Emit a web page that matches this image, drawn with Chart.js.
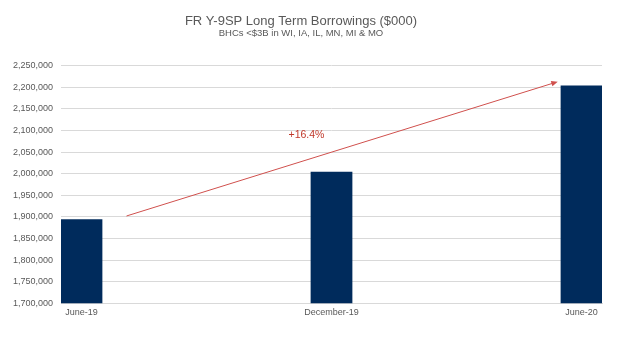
<!DOCTYPE html>
<html>
<head>
<meta charset="utf-8">
<title>FR Y-9SP Long Term Borrowings</title>
<script src="https://cdn.jsdelivr.net/npm/chart.js@4"></script>
<style>
  html, body { margin: 0; padding: 0; background: #fff; }
  #wrap { width: 640px; height: 343px; position: relative; }
</style>
</head>
<body>
<div id="wrap"><canvas id="borrowChart"></canvas></div>
<script>
// quarters shown on the x axis
const categories = ['June-19', 'December-19', 'June-20'];
// long term borrowings, $000
const borrowings = [1894600, 2004400, 2204400];
// y axis range
const yMin = 1700000;
const yMax = 2250000;
const yStep = 50000;
// growth annotation (data units: x = category index, y = value)
const growthText = '+16.4%';
const arrowFrom = [0.18, 1902000];
const arrowTo = [1.905, 2213000];
const growthTextAt = [0.9, 2089000];

const textGray = '#595959';
const gridGray = '#d9d9d9';
const arrowRed = '#d0504d';

const growthArrow = {
    id: 'growthArrow',
    afterDatasetsDraw(chart) {
        const c = chart.ctx;
        const xs = chart.scales.x, ys = chart.scales.y;
        const x1 = xs.getPixelForValue(arrowFrom[0]), y1 = ys.getPixelForValue(arrowFrom[1]);
        const x2 = xs.getPixelForValue(arrowTo[0]), y2 = ys.getPixelForValue(arrowTo[1]);
        const ang = Math.atan2(y2 - y1, x2 - x1);
        const head = 7;

        c.save();
        c.strokeStyle = arrowRed;
        c.fillStyle = arrowRed;
        c.lineWidth = 1;
        c.beginPath();
        c.moveTo(x1, y1);
        c.lineTo(x2 - Math.cos(ang) * head * 0.8, y2 - Math.sin(ang) * head * 0.8);
        c.stroke();

        c.beginPath();
        c.moveTo(x2, y2);
        c.lineTo(x2 - head * Math.cos(ang - 0.4), y2 - head * Math.sin(ang - 0.4));
        c.lineTo(x2 - head * Math.cos(ang + 0.4), y2 - head * Math.sin(ang + 0.4));
        c.closePath();
        c.fill();

        c.font = '10.5px "Liberation Sans", Arial, sans-serif';
        c.fillStyle = '#c0392b';
        c.textAlign = 'center';
        c.textBaseline = 'middle';
        c.fillText(growthText, xs.getPixelForValue(growthTextAt[0]), ys.getPixelForValue(growthTextAt[1]));
        c.restore();
    }
};

const ctx = document.getElementById('borrowChart').getContext('2d');
Chart.defaults.font.family = '"Liberation Sans", Arial, sans-serif';
Chart.defaults.color = textGray;

new Chart(ctx, {
    type: 'bar',
    data: {
        datasets: [{
            label: 'Long Term Borrowings',
            data: borrowings.map((v, i) => ({ x: i, y: v })),
            backgroundColor: '#002b5c',
            borderWidth: 0,
            barPercentage: 1,
            categoryPercentage: 0.167
        }]
    },
    options: {
        responsive: true,
        maintainAspectRatio: false,
        animation: false,
        layout: { padding: { left: 0, right: 38, top: 0, bottom: 21 } },
        scales: {
            x: {
                type: 'linear',
                offset: false,
                min: -0.082,
                max: 2.082,
                grid: { display: false, offset: false, drawTicks: false },
                border: { color: gridGray },
                ticks: {
                    stepSize: 1,
                    includeBounds: false,
                    maxRotation: 0,
                    padding: 4,
                    font: { size: 9 },
                    callback: v => categories[v] ?? ''
                }
            },
            y: {
                min: yMin,
                max: yMax,
                afterFit: scale => { scale.width = 61; },
                border: { display: false },
                grid: { color: gridGray, drawTicks: false },
                ticks: {
                    stepSize: yStep,
                    padding: 8,
                    font: { size: 9 },
                    callback: v => v.toLocaleString('en-US')
                }
            }
        },
        plugins: {
            legend: { display: false },
            tooltip: { enabled: false },
            title: {
                display: true,
                text: 'FR Y-9SP Long Term Borrowings ($000)',
                color: textGray,
                font: { size: 13, weight: 'normal', lineHeight: 1.1 },
                padding: { top: 14, bottom: 0 }
            },
            subtitle: {
                display: true,
                text: 'BHCs <$3B in WI, IA, IL, MN, MI & MO',
                color: textGray,
                font: { size: 9.5, lineHeight: 1.1 },
                padding: { top: 0, bottom: 27 }
            }
        }
    },
    plugins: [growthArrow]
});
</script>
</body>
</html>
